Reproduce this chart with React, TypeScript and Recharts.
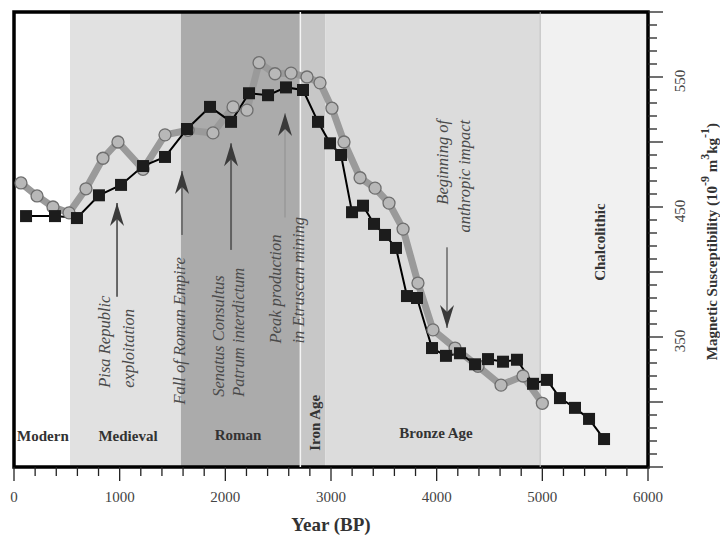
import React from 'react';
import {
  LineChart,
  Line,
  XAxis,
  YAxis,
  ReferenceArea,
  ReferenceLine,
  ReferenceDot,
  Label,
} from 'recharts';

// ---------- DATA ----------
const squareYears = [114, 388, 596, 804, 1013, 1221, 1429, 1637, 1855, 2054, 2224, 2404, 2574, 2735, 2877, 2991, 3095, 3199, 3303, 3407, 3511, 3615, 3719, 3814, 3956, 4088, 4221, 4363, 4486, 4628, 4760, 4912, 5044, 5167, 5309, 5442, 5584];
const squareValues = [443, 443, 441.5, 459, 467, 481.5, 488.5, 510, 527, 515.5, 537.5, 536, 542, 540, 515.5, 499, 490, 446, 451, 437, 428.5, 418.5, 381.5, 380, 341.5, 335.5, 337.5, 329, 333, 331, 332.5, 314, 317, 303, 295.5, 287, 271.5];

const circleYears = [66, 218, 369, 521, 681, 842, 984, 1221, 1429, 1647, 1883, 2073, 2205, 2319, 2470, 2622, 2773, 2896, 3009, 3123, 3275, 3417, 3549, 3682, 3823, 3965, 4174, 4391, 4609, 4817, 5000];
const circleValues = [468.5, 458.5, 450, 445.5, 464, 487.5, 500, 479, 505.5, 509, 507, 527, 524.5, 561, 552.5, 553, 550, 545.5, 526, 500, 472.5, 464.5, 453, 433, 391.5, 355.5, 341.5, 327.5, 313, 320, 299];

const periodNames = ['Modern', 'Medieval', 'Roman', 'Iron Age', 'Bronze Age', 'Chalcolithic'];
const periodStarts = [0, 530, 1580, 2710, 2945, 4980];
const periodEnds = [530, 1580, 2710, 2945, 4980, 6000];

const xTicks = [0, 200, 400, 600, 800, 1000, 1200, 1400, 1600, 1800, 2000, 2200, 2400, 2600, 2800, 3000, 3200, 3400, 3600, 3800, 4000, 4200, 4400, 4600, 4800, 5000, 5200, 5400, 5600, 5800, 6000];
const xTickLabels = [0, 1000, 2000, 3000, 4000, 5000, 6000];
const yTicks = [250, 260, 270, 280, 290, 300, 310, 320, 330, 340, 350, 360, 370, 380, 390, 400, 410, 420, 430, 440, 450, 460, 470, 480, 490, 500, 510, 520, 530, 540, 550, 560, 570, 580, 590, 600];
const yTickLabels = [350, 450, 550];

// annotation texts and their anchor points (in data units)
const annotationLines = [
  'Pisa Republic', 'exploitation',
  'Fall of Roman Empire',
  'Senatus Consultus', 'Patrum interdictum',
  'Peak production', 'in Etruscan mining',
  'Beginning of', 'anthropic impact',
];
const annotationYears = [861, 1079, 1571, 1931, 2129, 2479, 2688, 4060, 4268];
const annotationValues = [311, 311, 298, 304, 304, 345, 345, 517, 517];
const annotationAnchors = ['start', 'start', 'start', 'start', 'start', 'start', 'start', 'end', 'end'];

// arrows: year, tail value, tip value
const arrowYears = [975, 1590, 2054, 2565, 4098];
const arrowTails = [381, 428.5, 417, 442, 419];
const arrowTips = [453, 477.7, 499, 522.3, 357];

// period label anchor points
const periodLabelYears = [274, 1079, 2120, 2849, 3994, 5546];
const periodLabelValues = [274, 274, 274.6, 284, 276.2, 423];
const periodLabelVertical = [false, false, false, true, false, true];

// ---------- STYLE ----------
const SERIF = "'Liberation Serif', 'Times New Roman', Times, serif";
const periodFills = ['#ffffff', '#e1e1e1', '#ababab', '#c7c7c7', '#dcdcdc', '#f1f1f1'];
const arrowShaftColors = ['#333333', '#707070', '#606060', '#9a9a9a', '#858585'];
const arrowShaftWidths = [1.4, 2, 2, 1.6, 2];

const squareData = squareYears.map((year, i) => ({ year, value: squareValues[i] }));
const circleData = circleYears.map((year, i) => ({ year, value: circleValues[i] }));

function XTick(props: any) {
  const { x, y, payload } = props;
  const v = payload.value;
  const major = v % 1000 === 0;
  return (
    <g>
      <line x1={x} y1={y} x2={x} y2={y + (major ? 14 : 9)} stroke="#222" strokeWidth={1.3} />
      {xTickLabels.includes(v) && (
        <text x={x} y={y + 30} textAnchor="middle" dominantBaseline="central" fontSize={15} fill="#444" fontFamily={SERIF}>
          {v}
        </text>
      )}
    </g>
  );
}

function YTick(props: any) {
  const { x, y, payload } = props;
  const v = payload.value;
  const major = v % 50 === 0;
  const lx = x + 32;
  const ly = y + 4;
  return (
    <g>
      <line x1={x} y1={y} x2={x + (major ? 15 : 9)} y2={y} stroke="#222" strokeWidth={1.3} />
      {yTickLabels.includes(v) && (
        <text
          x={lx}
          y={ly}
          textAnchor="middle"
          dominantBaseline="central"
          fontSize={15}
          fill="#444"
          fontFamily={SERIF}
          transform={`rotate(-90, ${lx}, ${ly})`}
        >
          {v}
        </text>
      )}
    </g>
  );
}

const squareDot = (p: any) => (
  <rect key={`sq-${p.index}`} x={p.cx - 6} y={p.cy - 6} width={12} height={12} fill="#1c1c1c" />
);

const makeTextShape = (text: string, anchor: string, vertical: boolean, italic: boolean) => (p: any) => {
  const { cx, cy } = p;
  return (
    <text
      x={cx}
      y={cy}
      textAnchor={anchor}
      dominantBaseline="central"
      fontFamily={SERIF}
      fontSize={italic ? 16.5 : 15}
      fontStyle={italic ? 'italic' : 'normal'}
      fontWeight={italic ? 'normal' : 'bold'}
      fill={italic ? '#4a4a4a' : '#333'}
      transform={vertical ? `rotate(-90, ${cx}, ${cy})` : undefined}
    >
      {text}
    </text>
  );
};

const makeHeadShape = (up: boolean) => (p: any) => {
  const { cx, cy } = p;
  const s = up ? 1 : -1;
  const d = `M ${cx} ${cy} L ${cx - 7} ${cy + s * 23} L ${cx} ${cy + s * 16} L ${cx + 7} ${cy + s * 23} Z`;
  return <path d={d} fill="#3a3a3a" />;
};

function XTitle(props: any) {
  const vb = props.viewBox || {};
  return (
    <text x={vb.x + vb.width / 2} y={vb.y + 57} textAnchor="middle" dominantBaseline="central" fontFamily={SERIF} fontWeight="bold" fontSize={19} fill="#333">
      Year (BP)
    </text>
  );
}

function YTitle(props: any) {
  const vb = props.viewBox || {};
  const cx = vb.x + 64;
  const cy = vb.y + vb.height / 2 + 2;
  return (
    <text
      x={cx}
      y={cy}
      textAnchor="middle"
      dominantBaseline="central"
      fontFamily={SERIF}
      fontWeight="bold"
      fontSize={15}
      fill="#333"
      transform={`rotate(-90, ${cx}, ${cy})`}
    >
      <tspan>Magnetic Susceptibility (10</tspan>
      <tspan dy={-7} fontSize={12}>-9</tspan>
      <tspan dy={7}> m</tspan>
      <tspan dy={-7} fontSize={12}>3</tspan>
      <tspan dy={7}>kg</tspan>
      <tspan dy={-7} fontSize={12}>-1</tspan>
      <tspan dy={7}>)</tspan>
    </text>
  );
}

export default function App() {
  return (
    <div style={{ width: 720, height: 527 }}>
      <LineChart width={720} height={527} margin={{ top: 4, right: 0, bottom: 0, left: 6 }}>
        <XAxis
          type="number"
          dataKey="year"
          domain={[0, 6000]}
          ticks={xTicks}
          interval={0}
          allowDataOverflow
          axisLine={false}
          tickLine={false}
          tickSize={0}
          tickMargin={0}
          height={68}
          tick={(p: any) => <XTick {...p} />}
        >
          <Label content={(p: any) => <XTitle {...p} />} />
        </XAxis>
        <YAxis
          orientation="right"
          type="number"
          dataKey="value"
          domain={[250, 600]}
          ticks={yTicks}
          interval={0}
          allowDataOverflow
          axisLine={false}
          tickLine={false}
          tickSize={0}
          tickMargin={0}
          width={80}
          tick={(p: any) => <YTick {...p} />}
        >
          <Label content={(p: any) => <YTitle {...p} />} />
        </YAxis>

        {periodNames.map((name, i) => (
          <ReferenceArea
            key={`band-${name}`}
            x1={periodStarts[i]}
            x2={periodEnds[i]}
            y1={250}
            y2={600}
            fill={periodFills[i]}
            fillOpacity={1}
            stroke="none"
          />
        ))}
        <ReferenceLine x={periodStarts[3]} stroke="#f4f4f4" strokeWidth={1.5} />
        <ReferenceLine x={periodStarts[5]} stroke="#bdbdbd" strokeWidth={1} />

        {periodNames.map((name, i) => (
          <ReferenceDot
            key={`plabel-${name}`}
            x={periodLabelYears[i]}
            y={periodLabelValues[i]}
            r={0}
            shape={makeTextShape(name, 'middle', periodLabelVertical[i], false)}
          />
        ))}

        {arrowYears.map((yr, i) => (
          <ReferenceLine
            key={`shaft-${i}`}
            segment={[{ x: yr, y: arrowTails[i] }, { x: yr, y: arrowTips[i] }]}
            stroke={arrowShaftColors[i]}
            strokeWidth={arrowShaftWidths[i]}
          />
        ))}
        {arrowYears.map((yr, i) => (
          <ReferenceDot
            key={`head-${i}`}
            x={yr}
            y={arrowTips[i]}
            r={0}
            shape={makeHeadShape(arrowTips[i] > arrowTails[i])}
          />
        ))}
        {annotationLines.map((t, i) => (
          <ReferenceDot
            key={`ann-${i}`}
            x={annotationYears[i]}
            y={annotationValues[i]}
            r={0}
            shape={makeTextShape(t, annotationAnchors[i], true, true)}
          />
        ))}

        <Line
          data={circleData}
          dataKey="value"
          type="linear"
          stroke="#9a9a9a"
          strokeWidth={7}
          strokeLinejoin="round"
          dot={{ r: 6, fill: '#b8b8b8', stroke: '#6e6e6e', strokeWidth: 1.3 }}
          activeDot={false}
          isAnimationActive={false}
        />
        <Line
          data={squareData}
          dataKey="value"
          type="linear"
          stroke="#000"
          strokeWidth={2}
          dot={squareDot}
          activeDot={false}
          isAnimationActive={false}
        />

        <ReferenceArea x1={0} x2={6000} y1={250} y2={600} fill="none" stroke="#000" strokeWidth={3.5} />
      </LineChart>
    </div>
  );
}
